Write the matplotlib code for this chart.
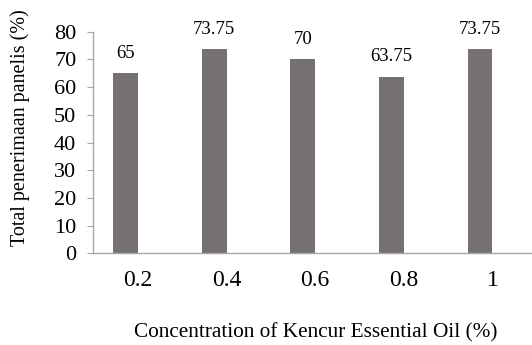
import numpy as np
import matplotlib
matplotlib.use("Agg")
import matplotlib.pyplot as plt

concentrations = ["0.2", "0.4", "0.6", "0.8", "1"]
acceptance = [65, 73.75, 70, 63.75, 73.75]
value_labels = ["65", "73.75", "70", "63.75", "73.75"]

plt.rcParams['font.family'] = ['Liberation Serif', 'DejaVu Serif']

fig = plt.figure(figsize=(5.32, 3.45), dpi=100)
ax = fig.add_axes([0.1748, 0.2658, 0.8252, 0.6423])

x = np.arange(len(concentrations))
# bars sit just left of each category centre (second, empty series in original)
bars = ax.bar(x, acceptance, width=-0.279, align='edge', color='#767171')

for b, lab in zip(bars, value_labels):
    ax.annotate(lab, (b.get_x() + b.get_width() / 2, b.get_height()),
                xytext=(0, 11), textcoords='offset points',
                ha='center', va='baseline', fontsize=13.5)

ax.set_xlim(-0.507, 4.446)
ax.set_ylim(0, 80)
ax.set_yticks(np.arange(0, 81, 10))
ax.set_xticks(x)
ax.set_xticklabels(concentrations)

for s in ['top', 'right']:
    ax.spines[s].set_visible(False)
for s in ['left', 'bottom']:
    ax.spines[s].set_color('#A6A6A6')
    ax.spines[s].set_linewidth(1.0)

ax.tick_params(axis='y', colors='#A6A6A6', labelcolor='black', labelsize=16,
               length=4, pad=8)
ax.tick_params(axis='x', length=0, labelsize=17, pad=12)

ax.set_ylabel("Total penerimaan panelis (%)", fontsize=14.5, va='center', ha='center')
ax.yaxis.set_label_coords(-0.1663, 0.5655)
ax.set_xlabel("Concentration of Kencur Essential Oil (%)", fontsize=15.3, va='baseline')
ax.xaxis.set_label_coords(0.5075, -0.378)

fig.savefig("out.png", dpi=100)
